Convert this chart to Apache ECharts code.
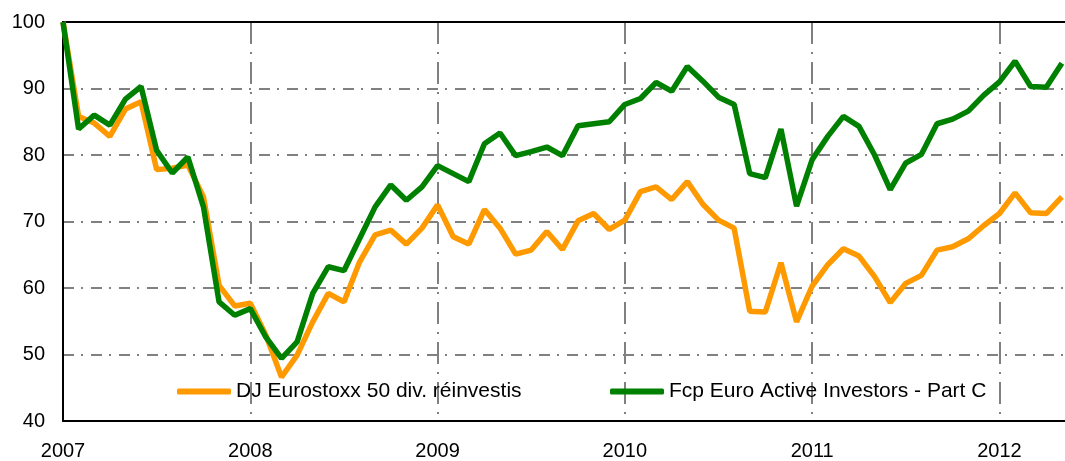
<!DOCTYPE html>
<html lang="fr">
<head>
    <meta charset="UTF-8">
    <title>Fcp Euro Active Investors</title>
    <script type="text/javascript" src="https://cdn.jsdelivr.net/npm/echarts@6/dist/echarts.min.js"></script>
</head>
<body style="margin:0">
<div id="main" style="width: 1065px; height: 461px;"></div>
<script type="text/javascript">
    // base 100 au 1er janvier 2007, un point par mois
    var startYear = 2007;
    var eurostoxx = [100, 85.8, 84.8, 82.8, 86.9, 88.0, 77.8, 78.0, 78.5, 73.7, 60.4, 57.3, 57.7,
        52.9, 46.6, 49.9, 54.9, 59.2, 57.9, 63.9, 68.0, 68.7, 66.6, 69.0, 72.5,
        67.7, 66.6, 71.8, 69.0, 65.1, 65.7, 68.5, 65.8, 70.1, 71.2, 68.8, 70.2,
        74.5, 75.2, 73.3, 76.0, 72.6, 70.2, 69.0, 56.5, 56.4, 63.8, 54.9, 60.3,
        63.5, 65.9, 64.8, 61.7, 57.8, 60.7, 61.9, 65.7, 66.2, 67.4, 69.4, 71.2,
        74.3, 71.3, 71.2, 73.7];
    var fcp = [100, 83.9, 86.0, 84.5, 88.4, 90.3, 80.7, 77.3, 79.7, 72.2, 57.9, 55.9, 56.9,
        52.6, 49.4, 51.9, 59.2, 63.2, 62.6, 67.4, 72.2, 75.5, 73.2, 75.2, 78.4,
        77.2, 76.0, 81.7, 83.3, 79.9, 80.5, 81.2, 79.9, 84.4, 84.7, 85.0, 87.6,
        88.5, 90.9, 89.6, 93.3, 91.1, 88.7, 87.6, 77.2, 76.6, 83.9, 72.3, 79.3,
        82.8, 85.8, 84.3, 80.0, 74.8, 78.8, 80.1, 84.7, 85.4, 86.6, 89.0, 91.0,
        94.1, 90.3, 90.2, 93.8];
    var names = ['DJ Eurostoxx 50 div. réinvestis', 'Fcp Euro Active Investors - Part C'];

    function toPoints(arr) {
        return arr.map(function (v, i) { return [i, v]; });
    }

    var font = 'Liberation Sans, Arial, sans-serif';
    var dashDot = [11, 7, 2, 8];
    var longDashDot = [22, 8, 2, 8];

    function legendAt(name, left) {
        return {
            data: [name], left: left, top: 376,
            icon: 'roundRect', itemWidth: 54, itemHeight: 6, itemGap: 0,
            textStyle: { fontSize: 21, color: '#000' }
        };
    }

    var option = {
        animation: false,
        textStyle: { fontFamily: font },
        grid: { left: 63, right: 0, top: 22, bottom: 40 },
        legend: [legendAt(names[0], 172), legendAt(names[1], 605)],
        xAxis: [
            {
                type: 'value', min: 0, max: 64.2, interval: 12,
                axisLine: { lineStyle: { color: '#000', width: 2 } },
                axisTick: { show: false },
                axisLabel: {
                    fontSize: 20, color: '#000', margin: 20, showMaxLabel: false,
                    formatter: function (v) { return v % 12 === 0 ? String(startYear + v / 12) : ''; }
                },
                splitLine: { show: true, showMaxLine: false, lineStyle: { color: '#808080', width: 2, type: longDashDot } }
            },
            {
                type: 'value', min: 0, max: 64.2, position: 'top',
                axisLine: { show: true, lineStyle: { color: '#000', width: 2 } },
                axisTick: { show: false }, axisLabel: { show: false }, splitLine: { show: false }
            }
        ],
        yAxis: {
            type: 'value', min: 40, max: 100, interval: 10,
            axisLine: { show: true, lineStyle: { color: '#000', width: 2 } },
            axisTick: { show: false },
            axisLabel: { fontSize: 20, color: '#000', margin: 18 },
            splitLine: { lineStyle: { color: '#808080', width: 2, type: dashDot } }
        },
        series: [
            {
                name: names[0], type: 'line', symbol: 'none',
                data: toPoints(eurostoxx),
                itemStyle: { color: '#FF9900' },
                lineStyle: { color: '#FF9900', width: 5.5 }
            },
            {
                name: names[1], type: 'line', symbol: 'none',
                data: toPoints(fcp),
                itemStyle: { color: '#008000' },
                lineStyle: { color: '#008000', width: 5.5 }
            }
        ]
    };

    var myChart = echarts.init(document.getElementById('main'));
    myChart.setOption(option);
</script>
</body>
</html>
